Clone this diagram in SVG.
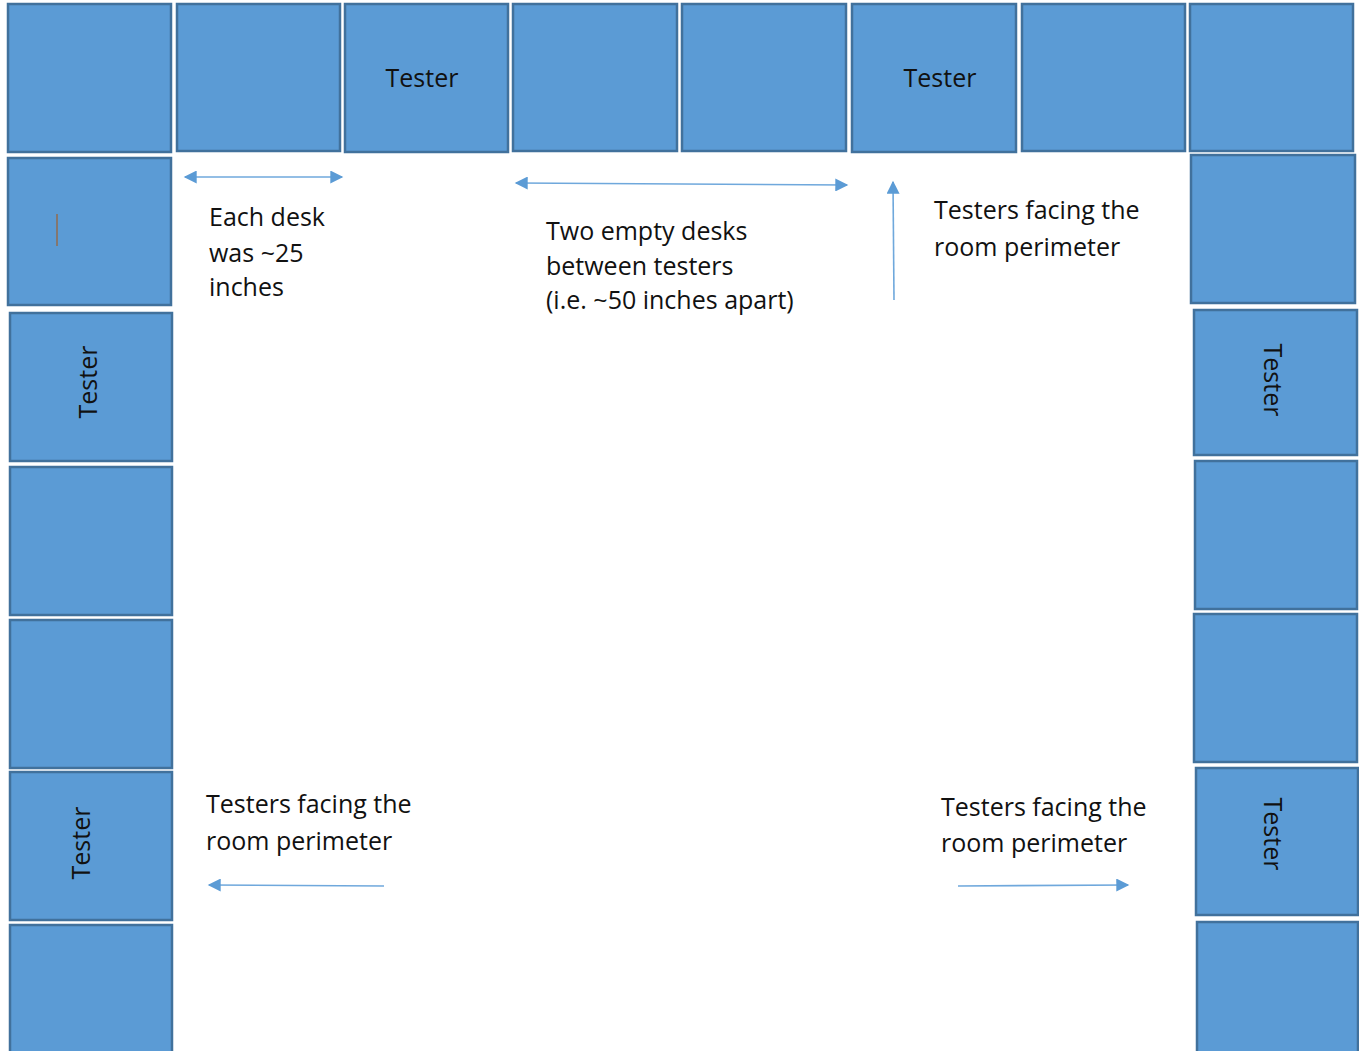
<svg xmlns="http://www.w3.org/2000/svg" width="1359" height="1051" viewBox="0 0 1359 1051">
<style>
.desk{fill:#5B9BD5;stroke:#41719C;stroke-width:2.5}
.lbl{font-family:"Open Sans","Noto Sans","DejaVu Sans",sans-serif;font-size:25px;fill:#111}
.note{font-family:"Open Sans","Noto Sans","DejaVu Sans",sans-serif;font-size:25px;fill:#111}
.arr{stroke:#6FA8DC;stroke-width:1.6;fill:none}
</style>
<defs>
<marker id="ah" viewBox="0 0 10 10" refX="9" refY="5" markerWidth="17" markerHeight="13" markerUnits="userSpaceOnUse" orient="auto-start-reverse">
<path d="M0,0 L10,5 L0,10 z" fill="#5B9BD5"/>
</marker>
</defs>
<rect width="1359" height="1051" fill="#fff"/>
<g id="top-row">
<g id="t1"><rect class="desk" x="8" y="4" width="163" height="148"/></g>
<g id="t2"><rect class="desk" x="177" y="4" width="163" height="147"/></g>
<g id="t3"><rect class="desk" x="345" y="4" width="163" height="148"/><text class="lbl" x="422" y="87" text-anchor="middle">Tester</text></g>
<g id="t4"><rect class="desk" x="513" y="4" width="164" height="147"/></g>
<g id="t5"><rect class="desk" x="682" y="4" width="164" height="147"/></g>
<g id="t6"><rect class="desk" x="852" y="4" width="164" height="148"/><text class="lbl" x="940" y="87" text-anchor="middle">Tester</text></g>
<g id="t7"><rect class="desk" x="1022" y="4" width="163" height="147"/></g>
<g id="t8"><rect class="desk" x="1190" y="4" width="163" height="147"/></g>
</g>
<g id="left-col">
<g id="l1"><rect class="desk" x="8" y="158" width="163" height="147"/><line x1="57" y1="214" x2="57" y2="246" stroke="#A0602D" stroke-width="1.2"/></g>
<g id="l2"><rect class="desk" x="10" y="313" width="162" height="148"/><text class="lbl" transform="translate(97,382) rotate(-90)" text-anchor="middle">Tester</text></g>
<g id="l3"><rect class="desk" x="10" y="467" width="162" height="148"/></g>
<g id="l4"><rect class="desk" x="10" y="620" width="162" height="148"/></g>
<g id="l5"><rect class="desk" x="10" y="772" width="162" height="148"/><text class="lbl" transform="translate(90,843) rotate(-90)" text-anchor="middle">Tester</text></g>
<g id="l6"><rect class="desk" x="10" y="925" width="162" height="140"/></g>
</g>
<g id="right-col">
<g id="r1"><rect class="desk" x="1191" y="155" width="164" height="148"/></g>
<g id="r2"><rect class="desk" x="1194" y="310" width="163" height="145"/><text class="lbl" transform="translate(1264,380) rotate(90)" text-anchor="middle">Tester</text></g>
<g id="r3"><rect class="desk" x="1195" y="461" width="162" height="148"/></g>
<g id="r4"><rect class="desk" x="1194" y="614" width="163" height="148"/></g>
<g id="r5"><rect class="desk" x="1196" y="768" width="162" height="147"/><text class="lbl" transform="translate(1264,834) rotate(90)" text-anchor="middle">Tester</text></g>
<g id="r6"><rect class="desk" x="1197" y="922" width="161" height="140"/></g>
</g>
<g id="connectors">
<line class="arr" x1="185" y1="177" x2="342" y2="177" marker-start="url(#ah)" marker-end="url(#ah)"/>
<line class="arr" x1="516" y1="183" x2="847" y2="185" marker-start="url(#ah)" marker-end="url(#ah)"/>
<line class="arr" x1="894" y1="300" x2="893" y2="182" marker-end="url(#ah)"/>
<line class="arr" x1="384" y1="886" x2="209" y2="885" marker-end="url(#ah)"/>
<line class="arr" x1="958" y1="886" x2="1128" y2="885" marker-end="url(#ah)"/>
</g>
<g id="notes">
<text class="note" x="209" y="226">Each desk</text>
<text class="note" x="209" y="262">was ~25</text>
<text class="note" x="209" y="296">inches</text>
<text class="note" x="546" y="240">Two empty desks</text>
<text class="note" x="546" y="275">between testers</text>
<text class="note" x="546" y="309">(i.e. ~50 inches apart)</text>
<text class="note" x="934" y="219">Testers facing the</text>
<text class="note" x="934" y="256">room perimeter</text>
<text class="note" x="206" y="813">Testers facing the</text>
<text class="note" x="206" y="850">room perimeter</text>
<text class="note" x="941" y="816">Testers facing the</text>
<text class="note" x="941" y="852">room perimeter</text>
</g>
</svg>
